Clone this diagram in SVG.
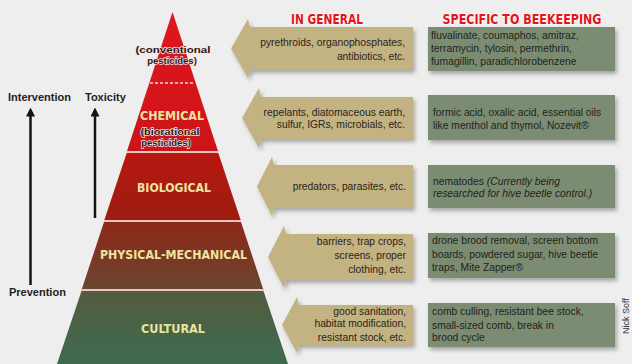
<svg xmlns="http://www.w3.org/2000/svg" width="632" height="364" viewBox="0 0 632 364">
<defs>
<style>
.ax{font-family:"Liberation Sans",Arial,sans-serif;font-weight:bold;font-size:11px;fill:#222}
.hd{font-family:"DejaVu Sans Condensed","DejaVu Sans",sans-serif;font-weight:bold;font-size:14px;fill:#e3151a;stroke:#ffffff;stroke-width:1.2;paint-order:stroke}
.lv{font-family:"DejaVu Sans Condensed","DejaVu Sans",sans-serif;font-weight:bold;font-size:13px;fill:#efe3a0;text-anchor:middle}
.sub{font-family:"Liberation Sans",Arial,sans-serif;font-weight:bold;font-size:9.5px;fill:#321414;text-anchor:middle;stroke:#f6e6e2;stroke-width:1.3;paint-order:stroke}
.at{font-family:"Liberation Sans",Arial,sans-serif;font-size:10.3px;fill:#2a2418;text-anchor:end}
.bt{font-family:"Liberation Sans",Arial,sans-serif;font-size:10.3px;fill:#1d2519}
.arr{fill:#c3b282}
.box{fill:#7b8c73}
.sep{stroke:#ebc7bf;stroke-width:2.2}
.axl{stroke:#141414;stroke-width:2.5;fill:none}
</style>
<filter id="sh" x="-10%" y="-20%" width="125%" height="150%">
<feDropShadow dx="2" dy="3" stdDeviation="2" flood-color="#000" flood-opacity="0.3"/>
</filter>
<marker id="ah" viewBox="0 0 10 10" refX="5" refY="5" markerWidth="3.6" markerHeight="3.6" orient="auto" markerUnits="strokeWidth">
<path d="M0,0 L10,5 L0,10 Z" fill="#141414"/>
</marker>
<linearGradient id="gTop" x1="0" y1="12" x2="0" y2="152" gradientUnits="userSpaceOnUse">
<stop offset="0" stop-color="#e2161d"/><stop offset="1" stop-color="#cc1418"/>
</linearGradient>
<linearGradient id="gBio" x1="0" y1="152" x2="0" y2="221" gradientUnits="userSpaceOnUse">
<stop offset="0" stop-color="#b8170f"/><stop offset="1" stop-color="#9c1d12"/>
</linearGradient>
<linearGradient id="gPhy" x1="0" y1="221" x2="0" y2="290" gradientUnits="userSpaceOnUse">
<stop offset="0" stop-color="#8e2716"/><stop offset="1" stop-color="#6a4630"/>
</linearGradient>
<linearGradient id="gCul" x1="0" y1="290" x2="0" y2="364" gradientUnits="userSpaceOnUse">
<stop offset="0" stop-color="#535c3e"/><stop offset="1" stop-color="#3e6a50"/>
</linearGradient>
</defs>
<rect x="0" y="0" width="632" height="364" fill="#eeeeee"/>

<text class="hd" x="327" y="24" text-anchor="middle" textLength="72" lengthAdjust="spacingAndGlyphs">IN GENERAL</text>
<text class="hd" x="522" y="24" text-anchor="middle" textLength="159" lengthAdjust="spacingAndGlyphs">SPECIFIC TO BEEKEEPING</text>

<g id="level-chemical">
<polygon points="172.5,12 218.3,152 126.7,152" fill="url(#gTop)"/>
<line x1="150" y1="83" x2="195" y2="83" stroke="#f4dcd8" stroke-width="1.6" stroke-dasharray="3,2"/>
<text class="sub" x="173" y="53" textLength="75" lengthAdjust="spacingAndGlyphs">(conventional</text>
<text class="sub" x="172" y="64">pesticides)</text>
<text class="lv" x="172" y="120" textLength="64" lengthAdjust="spacingAndGlyphs">CHEMICAL</text>
<text class="sub" x="170" y="135" textLength="59" lengthAdjust="spacingAndGlyphs">(biorational</text>
<text class="sub" x="166" y="146">pesticides)</text>
</g>
<g id="level-biological">
<polygon points="126.7,153 218.3,153 241,221 104,221" fill="url(#gBio)"/>
<text class="lv" x="174" y="192" textLength="74" lengthAdjust="spacingAndGlyphs">BIOLOGICAL</text>
</g>
<g id="level-physical">
<polygon points="104,222 241,222 263.5,290 81.5,290" fill="url(#gPhy)"/>
<text class="lv" x="173.5" y="259" font-size="14" textLength="147" lengthAdjust="spacingAndGlyphs">PHYSICAL-MECHANICAL</text>
</g>
<g id="level-cultural">
<polygon points="81.5,291 263.5,291 288,364 57,364" fill="url(#gCul)"/>
<text class="lv" x="173" y="333" font-size="14" style="fill:#e8e49c" textLength="64" lengthAdjust="spacingAndGlyphs">CULTURAL</text>
</g>
<g id="separators">
<line class="sep" x1="126.7" y1="152" x2="218.3" y2="152"/>
<line class="sep" x1="104" y1="221" x2="241" y2="221"/>
<line class="sep" x1="81.5" y1="290" x2="263.5" y2="290"/>
</g>

<g id="axis-labels">
<text class="ax" x="8" y="101">Intervention</text>
<text class="ax" x="85" y="101">Toxicity</text>
<text class="ax" x="9" y="296">Prevention</text>
</g>

<g id="connectors">
<line class="axl" x1="30.5" y1="285" x2="30.5" y2="112" marker-end="url(#ah)"/>
<line class="axl" x1="95" y1="218" x2="95" y2="112" marker-end="url(#ah)"/>
</g>

<g id="general-1">
<polygon class="arr" filter="url(#sh)" points="231,48.5 248,19 250,27 413,27 413,70 250,70 248,78"/>
<text class="at" x="405" y="46">pyrethroids, organophosphates,</text>
<text class="at" x="405" y="60">antibiotics, etc.</text>
</g>
<g id="general-2">
<polygon class="arr" filter="url(#sh)" points="242,118 259,88 261,97 413,97 413,139 261,139 259,148"/>
<text class="at" x="405" y="116">repelants, diatomaceous earth,</text>
<text class="at" x="405" y="128">sulfur, IGRs, microbials, etc.</text>
</g>
<g id="general-3">
<polygon class="arr" filter="url(#sh)" points="257,186.5 272,157 274,165 413,165 413,208 274,208 272,216"/>
<text class="at" x="406" y="190">predators, parasites, etc.</text>
</g>
<g id="general-4">
<polygon class="arr" filter="url(#sh)" points="268,257 284,226 286,234 413,234 413,280 286,280 284,288"/>
<text class="at" x="406" y="245">barriers, trap crops,</text>
<text class="at" x="406" y="259">screens, proper</text>
<text class="at" x="406" y="273">clothing, etc.</text>
</g>
<g id="general-5">
<polygon class="arr" filter="url(#sh)" points="282,325 297,297 299,305 413,305 413,345 299,345 297,353"/>
<text class="at" x="406" y="315">good sanitation,</text>
<text class="at" x="406" y="327">habitat modification,</text>
<text class="at" x="406" y="341">resistant stock, etc.</text>
</g>

<g id="beekeeping-1">
<rect class="box" filter="url(#sh)" x="428" y="27" width="187" height="44"/>
<text class="bt" x="431" y="39">fluvalinate, coumaphos, amitraz,</text>
<text class="bt" x="431" y="52">terramycin, tylosin, permethrin,</text>
<text class="bt" x="431" y="65">fumagillin, paradichlorobenzene</text>
</g>
<g id="beekeeping-2">
<rect class="box" filter="url(#sh)" x="428" y="95" width="187" height="45"/>
<text class="bt" x="433" y="116">formic acid, oxalic acid, essential oils</text>
<text class="bt" x="433" y="129">like menthol and thymol, Nozevit®</text>
</g>
<g id="beekeeping-3">
<rect class="box" filter="url(#sh)" x="428" y="165" width="187" height="43"/>
<text class="bt" x="433" y="185">nematodes <tspan font-style="italic">(Currently being</tspan></text>
<text class="bt" x="433" y="197" font-style="italic">researched for hive beetle control.)</text>
</g>
<g id="beekeeping-4">
<rect class="box" filter="url(#sh)" x="428" y="233" width="187" height="45"/>
<text class="bt" x="432" y="244">drone brood removal, screen bottom</text>
<text class="bt" x="432" y="258">boards, powdered sugar, hive beetle</text>
<text class="bt" x="432" y="271">traps, Mite Zapper®</text>
</g>
<g id="beekeeping-5">
<rect class="box" filter="url(#sh)" x="428" y="303" width="187" height="44"/>
<text class="bt" x="432" y="315">comb culling, resistant bee stock,</text>
<text class="bt" x="432" y="329">small-sized comb, break in</text>
<text class="bt" x="432" y="341">brood cycle</text>
</g>

<text x="629" y="316" transform="rotate(-90 629 316)" text-anchor="middle" font-family="Liberation Sans, Arial, sans-serif" font-size="9" fill="#333">Nick Soff</text>
</svg>
